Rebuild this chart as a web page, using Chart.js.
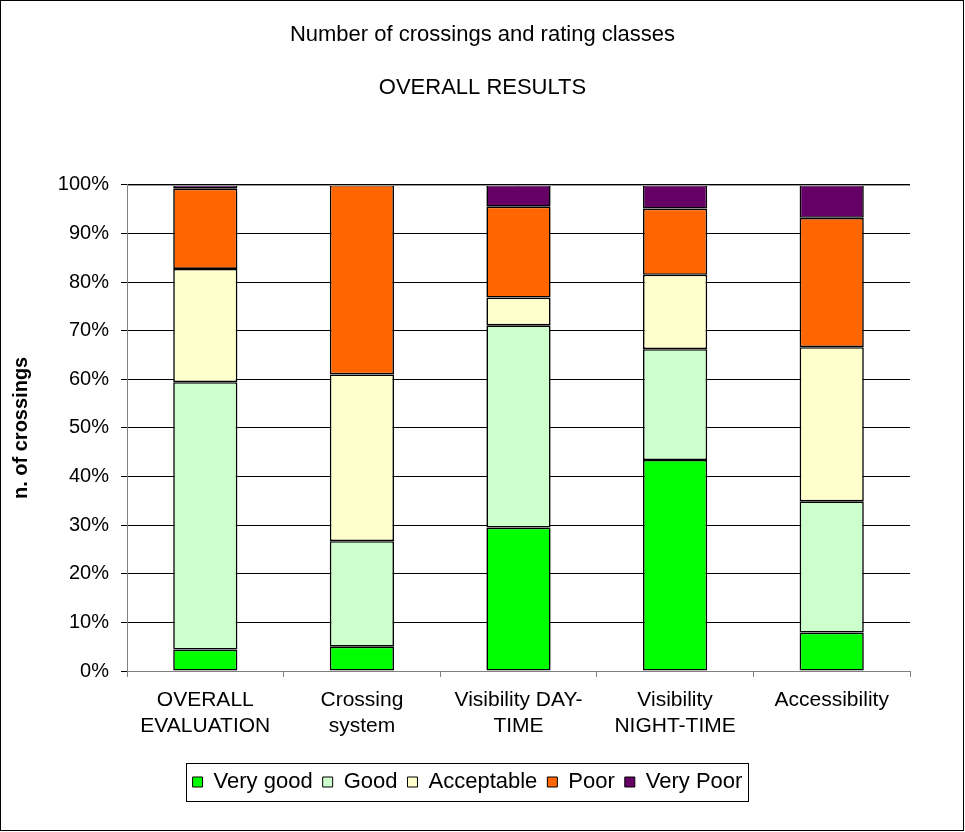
<!DOCTYPE html>
<html>
<head>
<meta charset="utf-8">
<script src="https://cdn.jsdelivr.net/npm/chart.js@4/dist/chart.umd.min.js"></script>
<style>
  html, body { margin: 0; padding: 0; background: #fff; }
  #wrap { width: 965px; height: 832px; position: relative; }
</style>
</head>
<body>
<div id="wrap"><canvas id="c" width="965" height="832"></canvas></div>
<script>
const categories = [
  ['OVERALL', 'EVALUATION'],
  ['Crossing', 'system'],
  ['Visibility DAY-', 'TIME'],
  ['Visibility', 'NIGHT-TIME'],
  ['Accessibility']
];
const veryGood   = [4.4, 5.0, 29.5, 43.4, 7.9];
const good       = [55.0, 21.7, 41.6, 22.8, 27.0];
const acceptable = [23.3, 34.3, 5.7, 15.3, 31.7];
const poor       = [16.5, 39.0, 18.7, 13.6, 26.6];
const veryPoor   = [0.8, 0.0, 4.5, 4.9, 6.8];
const yTicks = [0, 10, 20, 30, 40, 50, 60, 70, 80, 90, 100];

const FONT = "'Liberation Sans', Arial, sans-serif";

const frame = {
  id: 'frame',
  afterLayout(chart) {
    const lg = chart.legend;
    if (lg) {
      const dx = -15;
      lg.left += dx; lg.right += dx;
      (lg.legendHitBoxes || []).forEach(h => { h.left += dx; });
    }
  },
  beforeDraw(chart) {
    const ctx = chart.ctx;
    ctx.save();
    ctx.fillStyle = '#fff';
    ctx.fillRect(0, 0, chart.width, chart.height);
    ctx.restore();
  },
  afterDraw(chart) {
    const ctx = chart.ctx;
    ctx.save();
    ctx.strokeStyle = '#000';
    ctx.lineWidth = 1;
    ctx.strokeRect(0.5, 0.5, 963, 830);
    const a = chart.chartArea;
    ctx.strokeStyle = '#9a9a9a';
    ctx.beginPath();
    ctx.moveTo(a.left, Math.round(a.top) + 0.5);
    ctx.lineTo(a.right, Math.round(a.top) + 0.5);
    ctx.stroke();
    const lg = chart.legend;
    if (lg && lg.legendHitBoxes && lg.legendHitBoxes.length) {
      let l = Infinity, r = -Infinity, t = Infinity, b = -Infinity;
      lg.legendHitBoxes.forEach(h => {
        l = Math.min(l, h.left); r = Math.max(r, h.left + h.width);
        t = Math.min(t, h.top); b = Math.max(b, h.top + h.height);
      });
      const cy = (t + b) / 2;
      ctx.strokeStyle = '#000';
      ctx.strokeRect(Math.round(l - 7) + 0.5, Math.round(cy - 19) + 0.5, Math.round(r - l + 12), 38);
    }
    ctx.restore();
  }
};

const mk = (label, data, color) => ({
  label, data,
  backgroundColor: color,
  borderColor: '#000',
  borderWidth: 1.6,
  borderSkipped: false,
  barPercentage: 0.41,
  categoryPercentage: 1.0
});

new Chart(document.getElementById('c'), {
  type: 'bar',
  data: {
    labels: categories,
    datasets: [
      mk('Very good', veryGood, '#00FF00'),
      mk('Good', good, '#CCFFCC'),
      mk('Acceptable', acceptable, '#FFFFCC'),
      mk('Poor', poor, '#FF6600'),
      mk('Very Poor', veryPoor, '#660066')
    ]
  },
  options: {
    responsive: false,
    animation: false,
    devicePixelRatio: 1,
    layout: { padding: { left: 0, right: 0, top: 0, bottom: 29 } },
    scales: {
      x: {
        stacked: true,
        border: { color: '#808080', width: 1 },
        grid: { drawOnChartArea: false, offset: true, tickLength: 6, color: '#808080' },
        ticks: {
          color: '#000', font: { family: FONT, size: 21, lineHeight: 1.2 }, padding: 11,
          maxRotation: 0, autoSkip: false
        },
        afterFit(s) { s.height = 90; }
      },
      y: {
        stacked: true,
        min: 0, max: 100,
        afterBuildTicks(s) { s.ticks = yTicks.map(v => ({ value: v })); },
        border: { color: '#808080', width: 1 },
        grid: { color: '#000', lineWidth: 1, tickLength: 6 },
        ticks: {
          color: '#000', font: { family: FONT, size: 20 }, padding: 12,
          callback: v => v + '%'
        },
        title: {
          display: true, text: 'n. of crossings', color: '#000',
          font: { family: FONT, size: 20, weight: 'bold' }, padding: { top: 9, bottom: 14 }
        },
        afterFit(s) { s.width = 127; }
      },
      yRight: {
        type: 'linear',
        position: 'right',
        min: 0, max: 100,
        display: true,
        grid: { display: false, drawTicks: false },
        border: { display: false },
        ticks: { display: false },
        afterFit(s) { s.width = 55; }
      }
    },
    plugins: {
      title: {
        display: true, text: 'Number of crossings and rating classes', color: '#000',
        font: { family: FONT, size: 22, weight: 'normal', lineHeight: 1.2 }, padding: { top: 22, bottom: 0 }
      },
      subtitle: {
        display: true, text: 'OVERALL RESULTS', color: '#000',
        font: { family: FONT, size: 22, weight: 'normal', lineHeight: 1.2 }, padding: { top: 26, bottom: 84 }
      },
      legend: {
        position: 'bottom',
        labels: {
          color: '#000', font: { family: FONT, size: 22 },
          boxWidth: 10, boxHeight: 10, padding: 10,
          generateLabels(chart) {
            return chart.data.datasets.map((d, i) => ({
              text: d.label, fillStyle: d.backgroundColor, strokeStyle: '#000',
              lineWidth: 1, hidden: false, datasetIndex: i, fontColor: '#000'
            }));
          }
        }
      },
      tooltip: { enabled: false }
    }
  },
  plugins: [frame]
});
</script>
</body>
</html>
